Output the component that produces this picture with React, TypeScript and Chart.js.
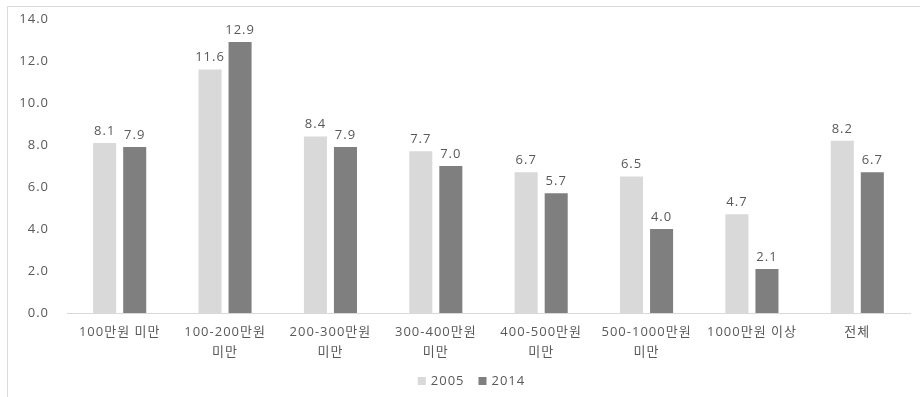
import React, { useEffect, useRef } from "react";
import { Chart, registerables } from "chart.js";

Chart.register(...registerables);

// Income brackets (multi-line labels wrap the same way the axis shows them)
const categories: (string | string[])[] = [
  "100만원 미만",
  ["100-200만원", "미만"],
  ["200-300만원", "미만"],
  ["300-400만원", "미만"],
  ["400-500만원", "미만"],
  ["500-1000만원", "미만"],
  "1000만원 이상",
  "전체",
];

const seriesLabels = ["2005", "2014"];
const values2005 = [8.1, 11.6, 8.4, 7.7, 6.7, 6.5, 4.7, 8.2];
const values2014 = [7.9, 12.9, 7.9, 7.0, 5.7, 4.0, 2.1, 6.7];
const seriesColors = ["#d9d9d9", "#7f7f7f"];

const yMin = 0;
const yMax = 14;
const yStep = 2;

const FONT = '"Open Sans", "Noto Sans CJK KR", sans-serif';
const TEXT = "#595959";
const FRAME = "#d9d9d9";
const SPACING = "1px";

// Frame lines, value labels above bars and a bottom legend
const decorations = {
  id: "decorations",
  beforeLayout(chart: any) {
    chart.ctx.letterSpacing = SPACING;
  },
  beforeDraw(chart: any) {
    const ctx = chart.ctx;
    ctx.letterSpacing = SPACING;
    ctx.save();
    ctx.strokeStyle = FRAME;
    ctx.lineWidth = 1;
    ctx.beginPath();
    ctx.moveTo(7.5, 397);
    ctx.lineTo(7.5, 6.5);
    ctx.lineTo(920, 6.5);
    ctx.stroke();
    ctx.restore();
  },
  afterDatasetsDraw(chart: any) {
    const ctx = chart.ctx;
    ctx.save();
    ctx.font = `13px ${FONT}`;
    ctx.fillStyle = TEXT;
    ctx.textAlign = "center";
    ctx.textBaseline = "middle";
    chart.data.datasets.forEach((ds: any, i: number) => {
      const meta = chart.getDatasetMeta(i);
      meta.data.forEach((bar: any, j: number) => {
        const v = ds.data[j] as number;
        ctx.fillText(v.toFixed(1), bar.x, bar.y - 12);
      });
    });

    // legend
    const box = 8;
    const gapBoxText = 5;
    const gapItems = 14;
    const widths = chart.data.datasets.map(
      (ds: any) => box + gapBoxText + ctx.measureText(ds.label).width
    );
    const total =
      widths.reduce((a: number, b: number) => a + b, 0) +
      gapItems * (widths.length - 1);
    let x = 471.5 - total / 2;
    const cy = 381;
    ctx.textAlign = "left";
    chart.data.datasets.forEach((ds: any, i: number) => {
      ctx.fillStyle = ds.backgroundColor;
      ctx.fillRect(x, cy - box / 2, box, box);
      ctx.fillStyle = TEXT;
      ctx.fillText(ds.label, x + box + gapBoxText, cy);
      x += widths[i] + gapItems;
    });
    ctx.restore();
  },
};

export default function App() {
  const canvasRef = useRef<HTMLCanvasElement | null>(null);

  useEffect(() => {
    if (!canvasRef.current) return;
    const chart = new Chart(canvasRef.current, {
      type: "bar",
      data: {
        labels: categories,
        datasets: [
          {
            label: seriesLabels[0],
            data: values2005,
            backgroundColor: seriesColors[0],
            categoryPercentage: 0.57,
            barPercentage: 0.767,
          },
          {
            label: seriesLabels[1],
            data: values2014,
            backgroundColor: seriesColors[1],
            categoryPercentage: 0.57,
            barPercentage: 0.767,
          },
        ],
      },
      options: {
        responsive: false,
        animation: false,
        layout: { padding: { top: 19, left: 0, right: 10, bottom: 0 } },
        plugins: {
          legend: { display: false },
          tooltip: { enabled: false },
        },
        scales: {
          x: {
            grid: { display: false, drawTicks: false },
            border: { display: true, color: FRAME, width: 1 },
            ticks: {
              color: TEXT,
              font: { family: FONT, size: 13, lineHeight: 1.5 },
              padding: 10,
              maxRotation: 0,
              autoSkip: false,
            },
            afterFit(scale: any) {
              scale.height = 84;
            },
          },
          y: {
            min: yMin,
            max: yMax,
            grid: { display: false, drawTicks: false },
            border: { display: false },
            ticks: {
              stepSize: yStep,
              color: TEXT,
              font: { family: FONT, size: 13 },
              padding: 18,
              callback: (v: any) => Number(v).toFixed(1),
            },
            afterFit(scale: any) {
              scale.width = 67;
              scale.paddingTop = 0;
              scale.paddingBottom = 0;
            },
          },
        },
      },
      plugins: [decorations],
    });
    return () => chart.destroy();
  }, []);

  return (
    <div style={{ position: "fixed", left: 0, top: 0, width: 920, height: 397, background: "#fff" }}>
      <canvas ref={canvasRef} width={920} height={397} style={{ display: "block" }} />
    </div>
  );
}
